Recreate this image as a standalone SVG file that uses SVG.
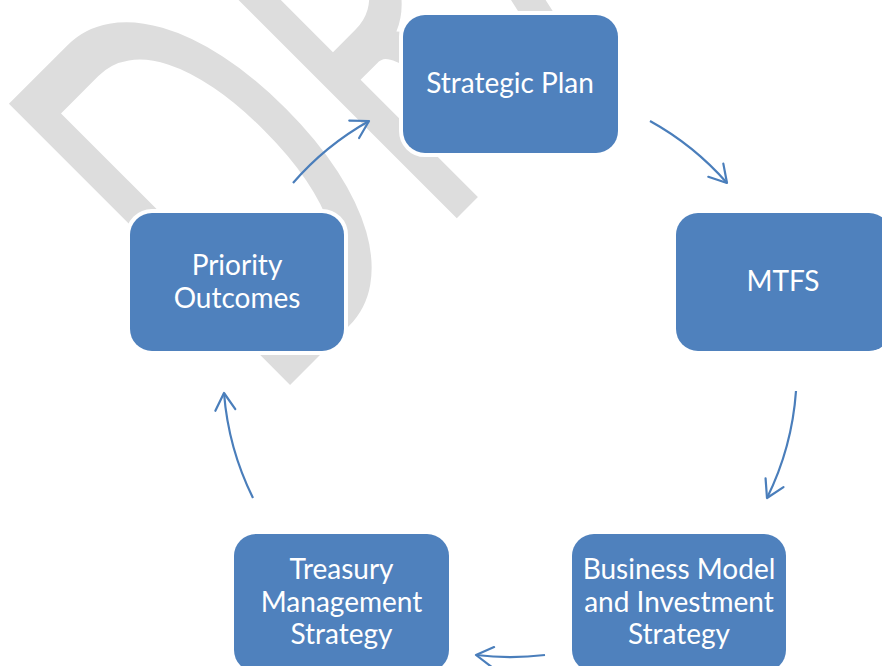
<svg xmlns="http://www.w3.org/2000/svg" width="882" height="666" viewBox="0 0 882 666">
  <style>
    .box { fill: #4f81bd; stroke: #ffffff; stroke-width: 8; paint-order: stroke; }
    .label { font-family: Lato, "Open Sans", "Liberation Sans", sans-serif; font-size: 28px; fill: #ffffff; text-anchor: middle; }
    .flow { fill: none; stroke: #4a7ebb; stroke-width: 2.2; marker-end: url(#head); }
    .watermark { font-family: Lato, "Open Sans", "Liberation Sans", sans-serif; font-size: 310px; fill: #dddddd; }
  </style>
  <defs>
    <marker id="head" markerUnits="userSpaceOnUse" viewBox="-20 -12 22 24" markerWidth="22" markerHeight="24" refX="0" refY="0" orient="auto" overflow="visible">
      <path d="M-17,-10 L0,0 L-17,10" fill="none" stroke="#4a7ebb" stroke-width="2.2" stroke-linecap="round" stroke-linejoin="round"/>
    </marker>
  </defs>

  <rect width="882" height="666" fill="#ffffff"/>

  <!-- diagonal watermark behind the cycle -->
  <text class="watermark" transform="translate(270 405) rotate(-45) scale(1 1.79)">DRAFT</text>

  <!-- cycle connectors -->
  <g id="connectors">
    <path class="flow" d="M293,183 A287,287 0 0 1 369,121"/>
    <path class="flow" d="M650,121 A287,287 0 0 1 727,183"/>
    <path class="flow" d="M796,391 A287,287 0 0 1 767,498"/>
    <path class="flow" d="M545,655 A287,287 0 0 1 476,655"/>
    <path class="flow" d="M253,498 A287,287 0 0 1 224,393"/>
  </g>

  <g id="strategic-plan">
    <rect class="box" x="403" y="15" width="215" height="138" rx="22"/>
    <text class="label" x="510" y="93">Strategic Plan</text>
  </g>

  <g id="mtfs">
    <rect class="box" x="676" y="213" width="215" height="138" rx="22"/>
    <text class="label" x="783" y="291">MTFS</text>
  </g>

  <g id="business-model">
    <rect class="box" x="572" y="534" width="214" height="138" rx="22"/>
    <text class="label" x="679" y="579">Business Model</text>
    <text class="label" x="679" y="611.5">and Investment</text>
    <text class="label" x="679" y="644">Strategy</text>
  </g>

  <g id="treasury">
    <rect class="box" x="234" y="534" width="215" height="138" rx="22"/>
    <text class="label" x="341.5" y="579">Treasury</text>
    <text class="label" x="341.5" y="611.5">Management</text>
    <text class="label" x="341.5" y="644">Strategy</text>
  </g>

  <g id="priority-outcomes">
    <rect class="box" x="130" y="213" width="214" height="138" rx="22"/>
    <text class="label" x="237" y="275">Priority</text>
    <text class="label" x="237" y="307.5">Outcomes</text>
  </g>
</svg>
